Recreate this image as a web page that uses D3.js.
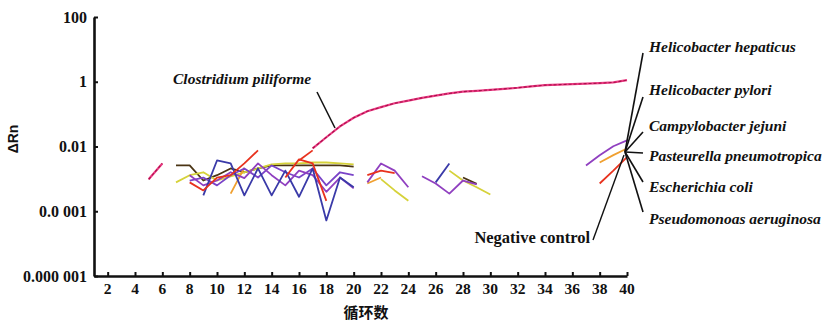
<!DOCTYPE html>
<html><head><meta charset="utf-8">
<script src="https://cdn.jsdelivr.net/npm/d3@7"></script>
<style>body{margin:0;background:#fff}svg{display:block}</style>
</head><body><svg id="c" width="823" height="323"></svg>
<script>
// ---- data (cycle, ΔRn); null = gap ----
const xTicks = [2,4,6,8,10,12,14,16,18,20,22,24,26,28,30,32,34,36,38,40];
const yTicks = [100,1,0.01,0.0001,0.000001];
const yTickLabels = ["100","1","0.01","0.0 001","0.000 001"];

const clostridium = [[5,0.00097],[6,0.0030],[7,null],[17,0.0088],[18,0.0193],[19,0.042],[20,0.077],[21,0.123],[22,0.164],[23,0.217],[24,0.262],[25,0.318],[26,0.374],[27,0.435],[28,0.494],[29,0.526],[30,0.561],[31,0.603],[32,0.652],[33,0.721],[34,0.785],[35,0.813],[36,0.843],[37,0.873],[38,0.905],[39,0.951],[40,1.12]];
const blue = [[9,0.00031],[10,0.0037],[11,0.0030],[12,0.00031],[13,0.0021],[14,0.00031],[15,0.0018],[16,0.00028],[17,0.0021],[18,0.000052],[19,0.0011],[20,0.00055],[20.5,null],[26,0.00078],[27,0.0030]];
const purple = [[8,0.0013],[9,0.00063],[10,0.00089],[11,0.0016],[12,0.00105],[13,0.0030],[14,0.0013],[15,0.00063],[16,0.0018],[17,0.0013],[18,0.0004],[19,0.0011],[20,0.00051],[20.5,null],[21,0.00078],[22,0.0030],[23,0.0018],[24,0.00055],[24.5,null],[25,0.0012],[26,0.00072],[27,0.00035],[28,0.00089],[29,0.00068],[30,null],[37,0.0026],[38,0.0054],[39,0.0102],[40,0.0155]];
const violet = [[8,0.00089],[9,0.0011],[10,0.00063],[11,0.0013],[12,0.0021],[13,0.0011],[14,0.0026],[15,0.0016],[16,0.0011],[17,0.0021],[18,0.00063],[19,0.0016],[20,0.0013]];
const red = [[8,0.00078],[9,0.00044],[10,0.0011],[11,0.0013],[12,0.0030],[13,0.0076],[13.5,null],[15,0.0011],[16,0.0040],[17,0.0030],[18,0.00021],[18.5,null],[21,0.0013],[22,0.0018],[23,0.0015],[23.5,null],[38,0.00072],[39,0.0018],[40,0.0047]];
const red2 = [[16,0.0037],[17,0.0076]];
const orange = [[11,0.00035],[12,0.0022],[12.5,null],[21,0.00072],[22,0.0011],[22.5,null],[38,0.0032],[39,0.0054],[40,0.0087]];
const yellow = [[7,0.00078],[8,0.0013],[9,0.0016],[10,0.00089],[11,0.0012],[12,0.0016],[13,0.0021],[14,0.0028],[15,0.0030],[16,0.0030],[17,0.0032],[18,0.0032],[19,0.0030],[20,0.0028],[20.5,null],[22,0.00098],[23,0.00044],[24,0.00021],[24.5,null],[27,0.0018],[28,0.00089],[29,0.00055],[30,0.00033]];
const dark = [[7,0.0026],[8,0.0026],[9,0.00089],[10,0.0013],[11,0.0021],[12,0.0016],[13,0.0021],[14,0.0026],[15,0.0026],[16,0.0026],[17,0.0026],[18,0.0026],[19,0.0026],[20,0.0024],[20.5,null],[28,0.0011],[29,0.0007]];

const rightLabels = ["Helicobacter hepaticus","Helicobacter pylori","Campylobacter jejuni","Pasteurella pneumotropica","Escherichia coli","Pseudomonoas aeruginosa"];

// ---- drawing ----
const svg = d3.select("#c");
const x = d3.scaleLinear().domain([1,40]).range([94,627]);
const y = d3.scaleLog().domain([1e-6,100]).range([276,17]);
const line = d3.line().defined(d=>d[1]!=null).x(d=>x(d[0])).y(d=>y(d[1]));

const series = [
  [dark,"#4a3414"],[yellow,"#d6d23a"],[orange,"#f0a030"],[violet,"#7a44c8"],
  [purple,"#9040c0"],[blue,"#3a3aa8"],[red,"#e8321e"],[red2,"#e8321e"]
];
series.forEach(([d,c])=>{
  svg.append("path").attr("d",line(d)).attr("fill","none").attr("stroke",c)
    .attr("stroke-width",1.8).attr("stroke-linejoin","round");
});
svg.append("path").attr("d",line(clostridium)).attr("fill","none").attr("stroke","#ec3c84").attr("stroke-width",2.2);
svg.append("path").attr("d",line(clostridium)).attr("fill","none").attr("stroke","#a8104a").attr("stroke-width",1.1).attr("stroke-dasharray","3,2");

// axes
const serif = "'Liberation Serif','Times New Roman',serif";
const yAxis = svg.append("g").attr("transform","translate(94,0)")
  .call(d3.axisRight(y).tickValues(yTicks).tickFormat("").tickSize(4).tickSizeOuter(0));
const xAxis = svg.append("g").attr("transform","translate(0,276)")
  .call(d3.axisTop(x).tickValues(xTicks).tickFormat("").tickSize(4).tickSizeOuter(0));
[yAxis,xAxis].forEach(g=>{
  g.select(".domain").attr("stroke","#111").attr("stroke-width",2.6);
  g.selectAll(".tick line").attr("stroke","#111").attr("stroke-width",2);
});
svg.selectAll(".yl").data(yTicks).enter().append("text")
  .attr("x",87).attr("y",d=>y(d)+5.5).attr("text-anchor","end")
  .attr("font-family",serif).attr("font-weight","bold").attr("font-size",16).attr("fill","#111")
  .attr("xml:space","preserve").style("white-space","pre")
  .text((d,i)=>yTickLabels[i]);
svg.selectAll(".xl").data(xTicks).enter().append("text")
  .attr("x",d=>x(d)).attr("y",294).attr("text-anchor","middle")
  .attr("font-family",serif).attr("font-weight","bold").attr("font-size",15.5).attr("fill","#111")
  .text(d=>d);
svg.append("text").attr("x",366).attr("y",318).attr("text-anchor","middle")
  .attr("font-family","'Noto Sans CJK SC'").attr("font-weight","bold").attr("font-size",15).attr("fill","#111")
  .text("循环数");
svg.append("text").attr("transform","translate(18,139) rotate(-90)").attr("text-anchor","middle")
  .attr("font-family","'Liberation Sans',Arial,sans-serif").attr("font-weight","bold").attr("font-size",14).attr("fill","#111")
  .text("ΔRn");

// annotations
const lab = (t,xx,yy,italic,anchor,fs)=>svg.append("text").attr("x",xx).attr("y",yy)
  .attr("text-anchor",anchor||"start").attr("font-family",serif).attr("font-weight","bold")
  .attr("font-style",italic?"italic":"normal").attr("font-size",fs||15.5).attr("fill","#111").text(t);
lab("Clostridium piliforme",173,84,true,"start",15.5);
svg.append("line").attr("x1",317).attr("y1",92).attr("x2",335).attr("y2",128).attr("stroke","#111").attr("stroke-width",1.6);

const labelY = [52,95,131,161,192,224];
const endY = [53,97,132,153,182,212];
rightLabels.forEach((t,i)=>{
  lab(t,649,labelY[i],true,"start",15.5);
  svg.append("line").attr("x1",625).attr("y1",152).attr("x2",643).attr("y2",endY[i]).attr("stroke","#111").attr("stroke-width",1.6);
});
lab("Negative control",590,243,false,"end",16.5);
svg.append("line").attr("x1",624).attr("y1",155).attr("x2",593).attr("y2",240).attr("stroke","#111").attr("stroke-width",1.4);
</script></body></html>
